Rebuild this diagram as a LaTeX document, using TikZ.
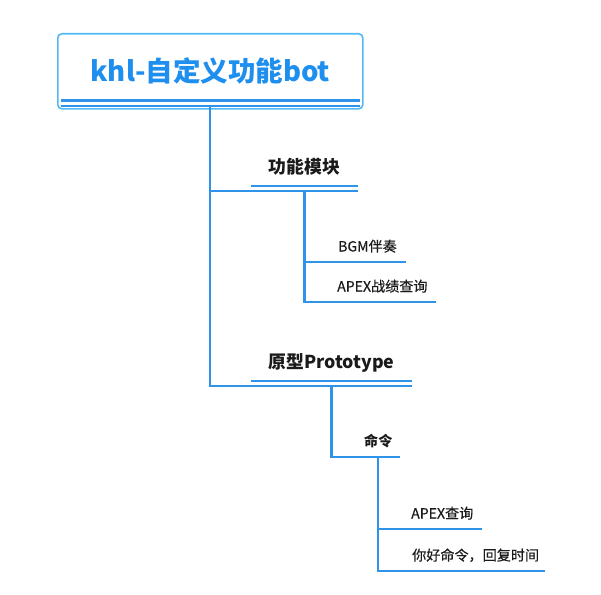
\documentclass[tikz,border=0pt]{standalone}
\usepackage{fontspec}
\setmainfont{Noto Sans CJK SC}
\newfontfamily\medfont{Noto Sans CJK SC}[FakeBold=0.35]
\definecolor{linec}{HTML}{2F93EA}
\definecolor{titlec}{HTML}{1F8FEF}
\definecolor{boxc}{HTML}{52B9F6}
\definecolor{txtc}{HTML}{1A1A1A}
\tikzset{
  conn/.style={draw=linec, line width=2.3pt, line join=miter},
  rootbox/.style={draw=boxc, line width=1.6pt, rounded corners=4pt, fill=white,
    minimum width=305pt, minimum height=75pt, inner sep=0pt,
    font=\fontsize{27.5}{31}\selectfont\bfseries, text=titlec},
  headnode/.style={inner sep=0pt, anchor=south, text height=14pt, text depth=12.3pt,
    font=\fontsize{17.8}{20}\selectfont\bfseries, text=txtc},
  leafnode/.style={inner sep=0pt, anchor=south west, align=left, text height=12pt, text depth=10.3pt,
    font=\fontsize{14.1}{16}\medfont, text=txtc},
  leafbold/.style={leafnode, font=\fontsize{14.1}{16}\selectfont\bfseries}
}
\begin{document}
\begin{tikzpicture}[x=1pt,y=-1pt]
\useasboundingbox (0,0) rectangle (601,594);
\node[rootbox, anchor=north west] (root) at (57,33) {khl-自定义功能bot};
\draw[linec, line width=2.3pt] ([xshift=4pt,yshift=9pt]root.south west) -- ([xshift=-4pt,yshift=9pt]root.south east);
\draw[linec, line width=2pt] ([xshift=4pt,yshift=3.6pt]root.south west) -- ([xshift=-4pt,yshift=3.6pt]root.south east);

\node[headnode, minimum width=107pt] (m1) at (304.5,186) {功能模块};
\node[headnode, minimum width=161pt] (m2) at (331.5,381) {原型Prototype};

\node[leafnode, text width=68pt] (b1) at (338,262) {BGM伴奏};
\node[leafnode, text width=99pt] (b2) at (337,302) {APEX战绩查询};

\node[leafbold, text width=36pt] (c1) at (364,457) {命令};
\node[leafnode, text width=71pt] (d1) at (411,529) {APEX查询};
\node[leafnode, text width=133pt] (d2) at (412,571) {你好命令，回复时间};

% connectors
\draw[conn] ([yshift=3.6pt]root.south) |- ([yshift=-5.3pt]m1.south east);
\draw[conn] ([yshift=3.6pt]root.south) |- ([yshift=-5pt]m2.south east);
\draw[conn] (m1.south west) -- (m1.south east);
\draw[conn] (m2.south west) -- (m2.south east);
\draw[conn] ([yshift=-5.3pt]m1.south) |- (b1.south east);
\draw[conn] ([yshift=-5.3pt]m1.south) |- (b2.south east);
\draw[conn] ([yshift=-5pt]m2.south) |- (c1.south east);
\draw[conn] ([xshift=14pt]c1.south west) |- (d1.south east);
\draw[conn] ([xshift=14pt]c1.south west) |- (d2.south east);
\end{tikzpicture}
\end{document}
